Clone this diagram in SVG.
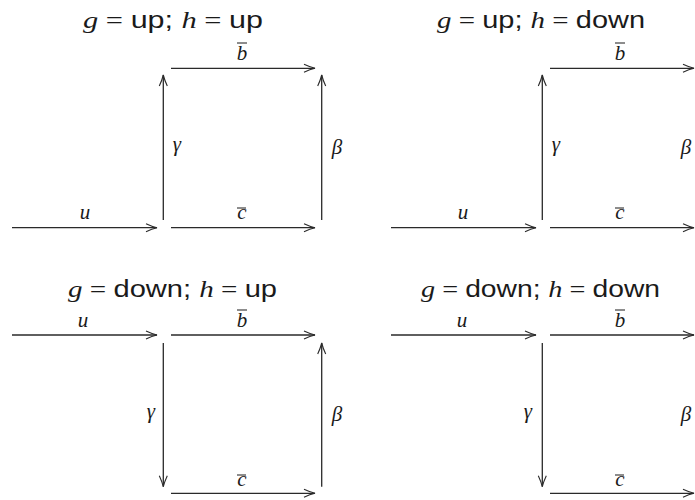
<svg xmlns="http://www.w3.org/2000/svg" width="695" height="500" viewBox="0 0 695 500">
<style>
.ln{stroke:#2a2a2a;stroke-width:1.3;fill:none;marker-end:url(#ah)}
.t{font-family:"Liberation Sans",Arial,sans-serif;font-size:23px;fill:#1a1a1a}
.m{font-family:"Liberation Serif","Times New Roman",serif;font-style:italic}
.r{font-family:"Liberation Serif","Times New Roman",serif}
.lb{font-family:"Liberation Serif","Times New Roman",serif;font-style:italic;font-size:21px;fill:#1a1a1a;text-anchor:middle}
.bar{stroke:#1a1a1a;stroke-width:1}
</style>
<defs>
<marker id="ah" markerUnits="userSpaceOnUse" markerWidth="14" markerHeight="10" viewBox="-12 -5 14 10" refX="0" refY="0" orient="auto">
<path d="M-11,-4 Q-5,-1.2 0,0 Q-5,1.2 -11,4" fill="none" stroke="#2a2a2a" stroke-width="1.1"/>
</marker>
</defs>
<g id="titles">
<text class="t" x="83" y="28" textLength="180" lengthAdjust="spacingAndGlyphs"><tspan class="m">g</tspan><tspan class="r"> = </tspan>up; <tspan class="m">h</tspan><tspan class="r"> = </tspan>up</text>
<text class="t" x="437" y="28" textLength="208" lengthAdjust="spacingAndGlyphs"><tspan class="m">g</tspan><tspan class="r"> = </tspan>up; <tspan class="m">h</tspan><tspan class="r"> = </tspan>down</text>
<text class="t" x="68" y="296.5" textLength="209" lengthAdjust="spacingAndGlyphs"><tspan class="m">g</tspan><tspan class="r"> = </tspan>down; <tspan class="m">h</tspan><tspan class="r"> = </tspan>up</text>
<text class="t" x="421" y="296.5" textLength="239" lengthAdjust="spacingAndGlyphs"><tspan class="m">g</tspan><tspan class="r"> = </tspan>down; <tspan class="m">h</tspan><tspan class="r"> = </tspan>down</text>
</g>
<g id="connectors">
<line class="ln" x1="12" y1="227.7" x2="157" y2="227.7"/>
<line class="ln" x1="171" y1="227.7" x2="315" y2="227.7"/>
<line class="ln" x1="171" y1="68.3" x2="315" y2="68.3"/>
<line class="ln" x1="163.3" y1="220" x2="163.3" y2="75"/>
<line class="ln" x1="321.7" y1="220" x2="321.7" y2="75"/>

<line class="ln" x1="391" y1="227.7" x2="536" y2="227.7"/>
<line class="ln" x1="550" y1="227.7" x2="694" y2="227.7"/>
<line class="ln" x1="550" y1="68.3" x2="694" y2="68.3"/>
<line class="ln" x1="542.3" y1="220" x2="542.3" y2="75"/>

<line class="ln" x1="12" y1="335" x2="157" y2="335"/>
<line class="ln" x1="171" y1="335" x2="315" y2="335"/>
<line class="ln" x1="163.3" y1="343" x2="163.3" y2="486.7"/>
<line class="ln" x1="171" y1="493.3" x2="315" y2="493.3"/>
<line class="ln" x1="321.7" y1="486.7" x2="321.7" y2="343"/>

<line class="ln" x1="391" y1="335" x2="536" y2="335"/>
<line class="ln" x1="550" y1="335" x2="694" y2="335"/>
<line class="ln" x1="542.3" y1="343" x2="542.3" y2="486.7"/>
<line class="ln" x1="550" y1="493.3" x2="694" y2="493.3"/>
</g>
<g id="labels">
<text class="lb" x="85" y="219">u</text>
<text class="lb" x="242" y="60">b</text>
<text class="lb" x="242" y="219">c</text>
<text class="lb" x="177" y="151">γ</text>
<text class="lb" x="337" y="154">β</text>

<text class="lb" x="463" y="219">u</text>
<text class="lb" x="620" y="60">b</text>
<text class="lb" x="620" y="219">c</text>
<text class="lb" x="556" y="151">γ</text>
<text class="lb" x="686" y="154">β</text>

<text class="lb" x="83" y="327">u</text>
<text class="lb" x="242" y="327">b</text>
<text class="lb" x="242" y="486">c</text>
<text class="lb" x="151" y="418">γ</text>
<text class="lb" x="337" y="421">β</text>

<text class="lb" x="462" y="327">u</text>
<text class="lb" x="620" y="327">b</text>
<text class="lb" x="620" y="486">c</text>
<text class="lb" x="528" y="418">γ</text>
<text class="lb" x="686" y="421">β</text>

<line class="bar" x1="237" y1="43" x2="247" y2="43"/>
<line class="bar" x1="237" y1="208" x2="246" y2="208"/>
<line class="bar" x1="615" y1="43" x2="625" y2="43"/>
<line class="bar" x1="615" y1="208" x2="624" y2="208"/>
<line class="bar" x1="237" y1="310" x2="247" y2="310"/>
<line class="bar" x1="237" y1="475" x2="246" y2="475"/>
<line class="bar" x1="615" y1="310" x2="625" y2="310"/>
<line class="bar" x1="615" y1="475" x2="624" y2="475"/>
</g>
</svg>
